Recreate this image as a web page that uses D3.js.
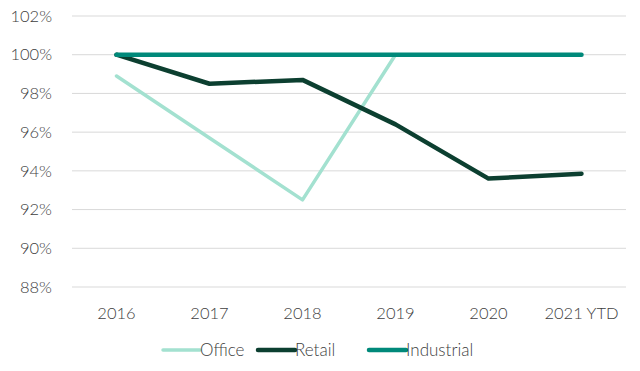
<!DOCTYPE html>
<html>
<head>
<meta charset="utf-8">
<script src="https://cdn.jsdelivr.net/npm/d3@7"></script>
<style>
  body { margin: 0; background: #fff; }
  text { font-family: Lato, "Open Sans", sans-serif; fill: #404040; font-weight: 300; }
</style>
</head>
<body>
<div id="chart"></div>
<script>
/* DATA */
const years = ["2016", "2017", "2018", "2019", "2020", "2021 YTD"];
const office = [98.9, 95.7, 92.5, 100, 100, 100];
const retail = [100, 98.5, 98.7, 96.4, 93.6, 93.85];
const industrial = [100, 100, 100, 100, 100, 100];
const yTicks = [88, 90, 92, 94, 96, 98, 100, 102];

const series = [
  { name: "Office", values: office, color: "#a3e1d0", width: 3.5 },
  { name: "Retail", values: retail, color: "#0c3f30", width: 4.5 },
  { name: "Industrial", values: industrial, color: "#00897a", width: 4.5 },
];

/* SET UP */
const w = 640;
const h = 371;
const m = { top: 16, right: 12, bottom: 84, left: 70 };

const svg = d3.select("#chart").append("svg")
  .attr("width", w)
  .attr("height", h);

const x = d3.scalePoint()
  .domain(years)
  .range([m.left, w - m.right])
  .padding(0.5);

const y = d3.scaleLinear()
  .domain([88, 102])
  .range([h - m.bottom, m.top]);

// gridlines
svg.append("g")
  .selectAll("line")
  .data(yTicks)
  .join("line")
  .attr("x1", m.left + 2)
  .attr("x2", w - m.right - 2)
  .attr("y1", d => y(d))
  .attr("y2", d => y(d))
  .attr("stroke", "#d9d9d9")
  .attr("stroke-width", 1);

// y labels
svg.append("g")
  .selectAll("text")
  .data(yTicks)
  .join("text")
  .attr("x", 52)
  .attr("y", d => y(d))
  .attr("dy", "0.35em")
  .attr("text-anchor", "end")
  .style("font-size", "16.5px")
  .text(d => d + "%");

// x labels
svg.append("g")
  .selectAll("text")
  .data(years)
  .join("text")
  .attr("x", d => x(d))
  .attr("y", 319)
  .attr("text-anchor", "middle")
  .style("font-size", "16.5px")
  .text(d => d);

// lines
const line = d3.line()
  .x((d, i) => x(years[i]))
  .y(d => y(d));

svg.append("g")
  .selectAll("path")
  .data(series)
  .join("path")
  .attr("d", d => line(d.values))
  .attr("fill", "none")
  .attr("stroke", d => d.color)
  .attr("stroke-width", d => d.width)
  .attr("stroke-linejoin", "round")
  .attr("stroke-linecap", "round");

// legend
const legendX = [163, 258, 369];
const legend = svg.append("g")
  .selectAll("g")
  .data(series)
  .join("g")
  .attr("transform", (d, i) => `translate(${legendX[i]},350)`);

legend.append("line")
  .attr("x1", 0)
  .attr("x2", 37)
  .attr("stroke", d => d.color)
  .attr("stroke-width", d => d.width)
  .attr("stroke-linecap", "round");

legend.append("text")
  .attr("x", 37)
  .attr("dy", "0.35em")
  .style("font-size", "17px")
  .text(d => d.name);
</script>
</body>
</html>
